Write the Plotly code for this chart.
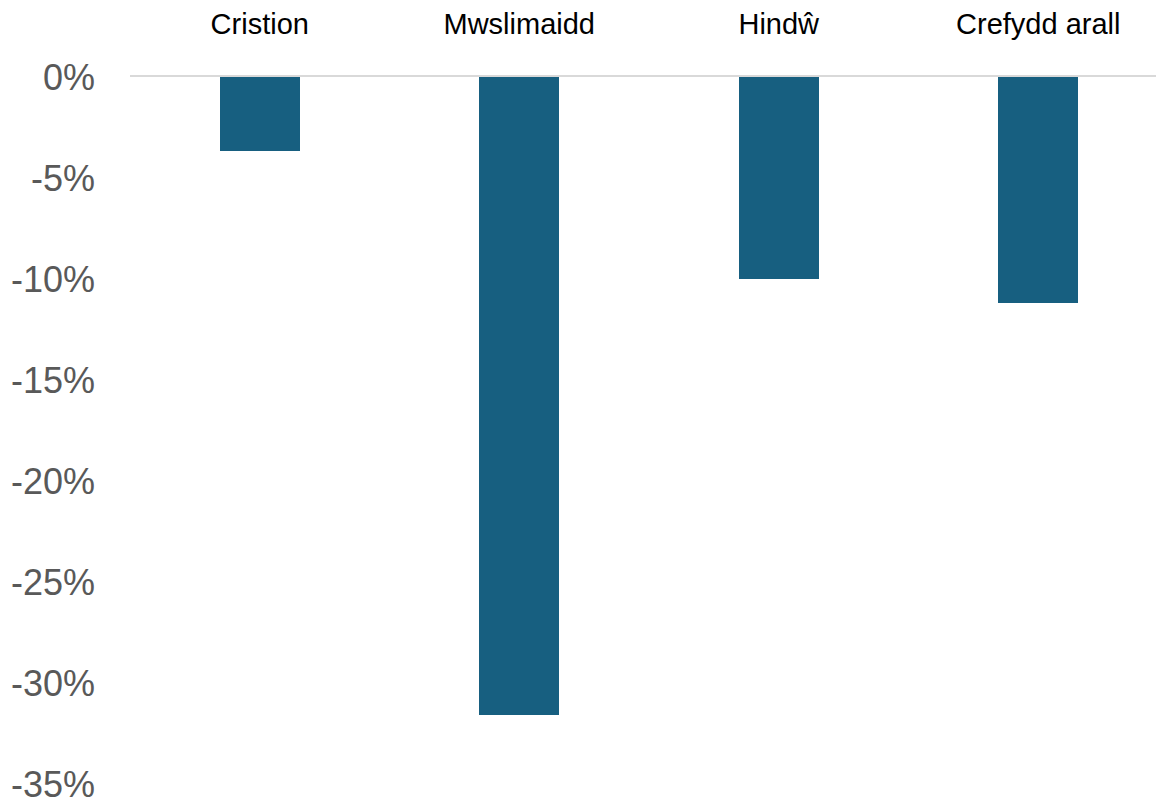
import plotly.graph_objects as go

categories = ["Cristion", "Mwslimaidd", "Hindŵ", "Crefydd arall"]
values = [-3.65, -31.6, -10.0, -11.2]
y_ticks = [0, -5, -10, -15, -20, -25, -30, -35]
y_tick_labels = ["0%", "-5%", "-10%", "-15%", "-20%", "-25%", "-30%", "-35%"]

fig = go.Figure(
    go.Bar(
        x=categories,
        y=values,
        width=0.31,
        marker=dict(color="#175F80", line=dict(width=0)),
    )
)

fig.update_layout(
    width=1164,
    height=803,
    margin=dict(l=122, r=4, t=69, b=27),
    paper_bgcolor="white",
    plot_bgcolor="white",
    font=dict(family="Liberation Sans, Arial, sans-serif"),
    showlegend=False,
    bargap=0,
)
fig.update_xaxes(
    side="top",
    range=[-0.5, 3.5],
    automargin=False,
    showline=True,
    linecolor="#D9D9D9",
    linewidth=2,
    showgrid=False,
    ticks="",
    ticklabelstandoff=29,
    tickfont=dict(size=29, color="#000000"),
)
fig.update_yaxes(
    range=[-35, 0],
    automargin=False,
    tickvals=y_ticks,
    ticktext=y_tick_labels,
    showgrid=False,
    zeroline=False,
    showline=False,
    ticks="",
    ticklabelstandoff=34,
    tickfont=dict(size=36, color="#595959"),
)

fig.write_html("out.html")
